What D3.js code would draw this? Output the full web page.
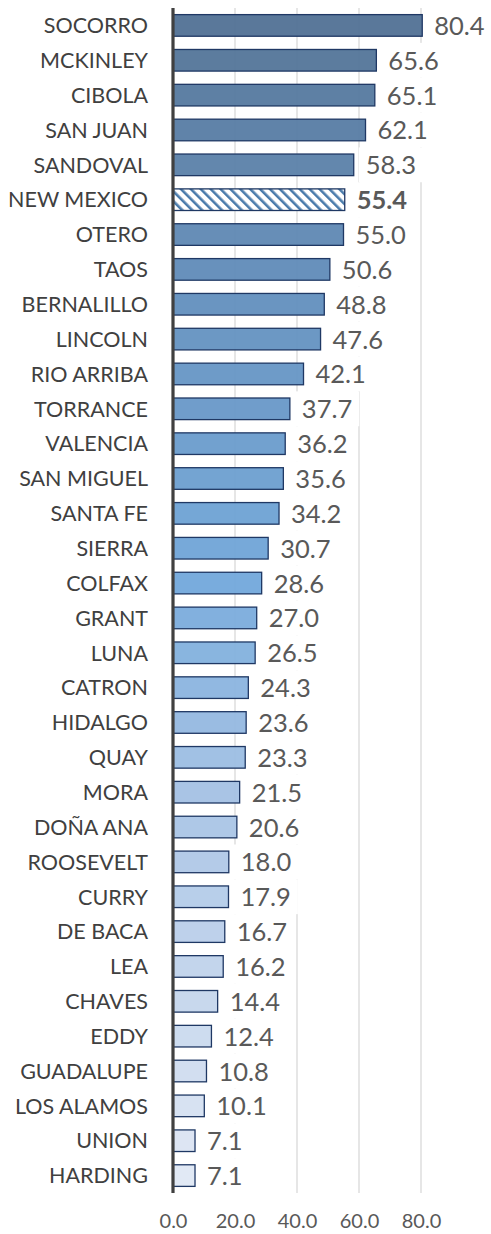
<!DOCTYPE html>
<html>
<head>
<meta charset="utf-8">
<script src="https://cdn.jsdelivr.net/npm/d3@7"></script>
<style>
  html, body { margin: 0; padding: 0; background: #fff; }
  svg { display: block; }
</style>
</head>
<body>
<svg id="chart"></svg>
<script>
// county rates, sorted high to low (state total shown hatched)
const counties = ["SOCORRO", "MCKINLEY", "CIBOLA", "SAN JUAN", "SANDOVAL", "NEW MEXICO", "OTERO", "TAOS",
  "BERNALILLO", "LINCOLN", "RIO ARRIBA", "TORRANCE", "VALENCIA", "SAN MIGUEL", "SANTA FE", "SIERRA",
  "COLFAX", "GRANT", "LUNA", "CATRON", "HIDALGO", "QUAY", "MORA", "DOÑA ANA", "ROOSEVELT", "CURRY",
  "DE BACA", "LEA", "CHAVES", "EDDY", "GUADALUPE", "LOS ALAMOS", "UNION", "HARDING"];
const values = [80.4, 65.6, 65.1, 62.1, 58.3, 55.4, 55.0, 50.6, 48.8, 47.6, 42.1, 37.7, 36.2, 35.6, 34.2, 30.7,
  28.6, 27.0, 26.5, 24.3, 23.6, 23.3, 21.5, 20.6, 18.0, 17.9, 16.7, 16.2, 14.4, 12.4, 10.8, 10.1, 7.1, 7.1];
const stateName = "NEW MEXICO";
const xTicks = [0, 20, 40, 60, 80];

const width = 491;
const height = 1234;
const data = counties.map((name, i) => ({ name, value: values[i], i }));

const svg = d3.select("#chart")
  .attr("width", width)
  .attr("height", height)
  .attr("viewBox", `0 0 ${width} ${height}`);

const x = d3.scaleLinear().domain([0, 80]).range([173, 421]);
const y = d3.scaleBand()
  .domain(counties)
  .range([8, 1193])
  .paddingInner(0.38)
  .paddingOuter(0.19);

const color = d3.scaleLinear()
  .domain([0, 8, 16, 22, 33])
  .range(["#4e6e92", "#5f8dbc", "#6fa6da", "#a3c0e3", "#dfe7f4"]);

// hatch pattern for the state bar
const defs = svg.append("defs");
const pat = defs.append("pattern")
  .attr("id", "hatch")
  .attr("patternUnits", "userSpaceOnUse")
  .attr("width", 7)
  .attr("height", 7)
  .attr("patternTransform", "rotate(-45)");
pat.append("rect").attr("width", 7).attr("height", 7).attr("fill", "#fff");
pat.append("rect").attr("x", 0).attr("width", 2.6).attr("height", 7).attr("fill", "#4a7bab");

// gridlines
svg.append("g")
  .selectAll("line")
  .data(xTicks.filter(d => d > 0))
  .join("line")
  .attr("x1", d => x(d))
  .attr("x2", d => x(d))
  .attr("y1", 8)
  .attr("y2", 1193)
  .attr("stroke", "#d9d9d9")
  .attr("stroke-width", 1.3);

// bars
svg.append("g")
  .selectAll("rect")
  .data(data)
  .join("rect")
  .attr("x", x(0))
  .attr("y", d => y(d.name))
  .attr("width", d => x(d.value) - x(0))
  .attr("height", y.bandwidth())
  .attr("fill", d => d.name === stateName ? "url(#hatch)" : color(d.i))
  .attr("fill-opacity", d => d.name === stateName ? 1 : 0.93)
  .attr("stroke", "#1f3864")
  .attr("stroke-width", 1.3);

// value labels with white boxes (they hide the gridlines like Excel)
const labels = svg.append("g")
  .selectAll("g")
  .data(data)
  .join("g");

const labelText = labels.append("text")
  .attr("x", d => x(d.value) + 12)
  .attr("y", d => y(d.name) + y.bandwidth() / 2 + 9.5)
  .attr("font-family", "Lato, 'Noto Sans', sans-serif")
  .attr("font-size", 25.5)
  .attr("font-weight", d => d.name === stateName ? "bold" : "normal")
  .attr("fill", "#595959")
  .text(d => d3.format(".1f")(d.value));

labelText.each(function(d) {
  const w = this.getComputedTextLength();
  d3.select(this.parentNode).insert("rect", "text")
    .attr("x", x(d.value) + 12 - 7)
    .attr("y", y(d.name) + y.bandwidth() / 2 - y.step() / 2)
    .attr("width", w + 14)
    .attr("height", y.step())
    .attr("fill", "#fff");
});

// category axis
const yAxis = svg.append("g")
  .attr("transform", `translate(${x(0)},0)`)
  .call(d3.axisLeft(y).tickSize(0).tickPadding(25));
yAxis.select(".domain").remove();
yAxis.selectAll("text")
  .attr("font-family", "Lato, 'Noto Sans', sans-serif")
  .attr("font-size", 21.5)
  .attr("fill", "#404040")
  .attr("dy", "0.36em");

svg.append("line")
  .attr("x1", x(0))
  .attr("x2", x(0))
  .attr("y1", 8)
  .attr("y2", 1193)
  .attr("stroke", "#404040")
  .attr("stroke-width", 3.2);

// value axis labels
const xAxis = svg.append("g")
  .attr("transform", "translate(0,1193)")
  .call(d3.axisBottom(x).tickValues(xTicks).tickSize(0).tickPadding(21).tickFormat(d3.format(".1f")));
xAxis.select(".domain").remove();
xAxis.selectAll("text")
  .attr("font-family", "Lato, 'Noto Sans', sans-serif")
  .attr("font-size", 20)
  .attr("fill", "#595959");
</script>
</body>
</html>
